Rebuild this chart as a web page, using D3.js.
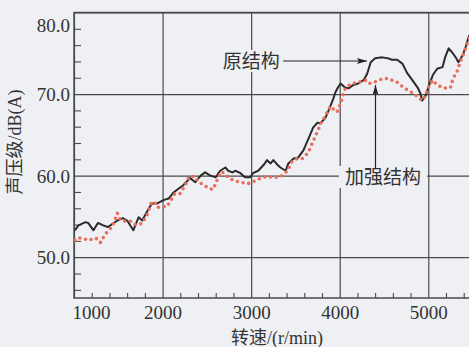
<!DOCTYPE html>
<html>
<head>
<meta charset="utf-8">
<script src="https://cdn.jsdelivr.net/npm/d3@7"></script>
<style>
  body { margin: 0; background: #eef0f4; }
  svg { display: block; }
</style>
</head>
<body>
<svg id="canvas"></svg>
<script>
// tick values
let xTicks = [1000, 2000, 3000, 4000, 5000]
let yTicks = [50, 60, 70, 80]

// 原结构 (black line)
let rpmOrig = [1010,1050,1130,1160,1220,1270,1330,1380,1410,1490,1550,1600,1670,1730,1770,1830,1880,1940,2010,2070,
  2120,2180,2230,2310,2370,2430,2480,2540,2600,2650,2710,2740,2790,2820,2880,2930,2990,3020,3080,3140,
  3180,3220,3250,3300,3330,3390,3420,3480,3530,3590,3650,3700,3750,3780,3840,3890,3930,3950,3980,4010,
  4060,4100,4150,4210,4270,4310,4350,4400,4480,4540,4590,4650,4710,4760,4820,4880,4910,4930,4970,5000,
  5050,5100,5160,5190,5230,5270,5310,5340,5390,5420,5450,5530]
let dbOrig = [53.3,53.9,54.3,54.2,53.3,54.2,53.9,53.7,53.9,54.5,54.8,54.5,53.3,54.9,54.5,55.7,56.6,56.6,57.0,57.2,
  57.9,58.4,58.8,59.7,59.2,60.0,60.4,60.0,59.8,60.6,61.0,60.6,60.4,60.6,60.3,59.8,59.8,60.3,60.6,61.3,
  61.9,61.5,61.9,61.3,61.0,60.6,61.5,62.1,62.2,63.1,64.6,65.9,66.5,66.4,67.1,68.4,69.5,70.2,70.8,71.3,
  70.8,70.7,71.1,71.3,71.7,72.5,73.9,74.4,74.5,74.4,74.2,74.2,73.7,72.6,71.7,70.8,70.1,69.2,69.8,70.8,
  72.3,73.1,73.3,74.5,75.6,75.1,74.5,73.9,74.8,75.7,76.8,79.0]

// 加强结构 (red dotted line)
let rpmRein = [1010,1050,1090,1130,1160,1210,1260,1300,1330,1380,1430,1490,1520,1580,1650,1690,1760,1820,1870,1910,
  1940,2000,2050,2100,2140,2200,2260,2300,2360,2410,2470,2530,2570,2630,2670,2730,2800,2880,2960,3010,
  3070,3130,3180,3240,3300,3350,3410,3460,3520,3580,3620,3660,3690,3720,3760,3800,3840,3870,3900,3940,
  3970,4020,4060,4120,4180,4230,4290,4320,4380,4440,4490,4550,4610,4660,4720,4780,4830,4890,4930,4970,
  5000,5050,5100,5160,5220,5250,5280,5330,5360,5400,5440,5490]
let dbRein = [52.1,52.4,52.3,52.2,52.3,52.1,52.3,51.8,52.4,53.2,53.7,55.4,54.6,54.4,54.4,54.0,54.1,55.0,56.6,56.8,
  56.1,56.2,56.2,57.1,57.8,57.8,58.9,59.9,59.9,59.2,58.8,58.4,58.3,59.8,60.5,59.9,59.4,59.2,59.0,59.2,
  59.5,59.8,59.9,59.8,59.8,60.0,60.6,61.7,62.1,62.1,62.5,63.2,64.0,64.7,65.7,66.7,67.3,68.1,68.5,68.0,
  67.8,69.2,70.6,71.2,71.4,71.5,71.7,71.3,71.4,71.7,71.9,71.9,71.6,71.4,70.8,70.4,70.1,69.6,69.2,69.8,
  70.8,71.7,71.1,70.8,70.7,70.8,71.9,72.9,73.9,75.0,76.2,77.4]

let width = 469
let height = 347
let plotLeft = 74
let plotTop = 12.5
let plotBottom = 298
let bg = '#eef0f4'
let gridColor = '#4a4a4a'

let canvas = d3.select('#canvas').attr('width', width).attr('height', height)
canvas.append('rect').attr('width', width).attr('height', height).attr('fill', bg)

let xScale = d3.scaleLinear().domain([1000, 6000]).range([plotLeft, plotLeft + 5000 * 0.08857])
let yScale = d3.scaleLinear().domain([45, 80]).range([plotBottom, plotTop])

let minorX = d3.range(1200, 6000, 200).filter(d => d % 1000 != 0)
let minorY = d3.range(46, 80, 2).filter(d => d % 10 != 0)

let tickFont = '"Liberation Serif", "Noto Sans CJK SC", serif'

// x axis: gridlines + labels
let xAxis = canvas.append('g')
  .attr('transform', `translate(0,${plotBottom})`)
  .call(d3.axisBottom(xScale).tickValues(xTicks).tickSize(-(plotBottom - plotTop)).tickPadding(8).tickFormat(d3.format('d')))
xAxis.select('.domain').remove()
xAxis.selectAll('line').attr('stroke', gridColor).attr('stroke-width', 1.2)
xAxis.selectAll('text')
  .style('font-family', tickFont).style('font-size', '19px').attr('fill', '#333')
  .attr('text-anchor', (d, i) => i == 0 ? 'start' : 'middle')
  .attr('x', (d, i) => i == 0 ? -2 : 0)

// x minor ticks
let xMinor = canvas.append('g')
  .attr('transform', `translate(0,${plotBottom})`)
  .call(d3.axisBottom(xScale).tickValues(minorX).tickSize(-5).tickFormat(''))
xMinor.select('.domain').remove()
xMinor.selectAll('line').attr('stroke', gridColor).attr('stroke-width', 1.1)

// y axis: gridlines + labels
let yAxis = canvas.append('g')
  .attr('transform', `translate(${plotLeft},0)`)
  .call(d3.axisLeft(yScale).tickValues(yTicks).tickSize(-(width - plotLeft + 20)).tickPadding(4).tickFormat(d3.format('.1f')))
yAxis.select('.domain').remove()
yAxis.selectAll('line').attr('stroke', gridColor).attr('stroke-width', 1.2)
yAxis.selectAll('text')
  .style('font-family', tickFont).style('font-size', '19px').attr('fill', '#333')
  .attr('dy', d => d == 80 ? '1.0em' : '0.34em')

// y minor ticks
let yMinor = canvas.append('g')
  .attr('transform', `translate(${plotLeft},0)`)
  .call(d3.axisLeft(yScale).tickValues(minorY).tickSize(-7).tickFormat(''))
yMinor.select('.domain').remove()
yMinor.selectAll('line').attr('stroke', gridColor).attr('stroke-width', 1.1)

// frame (left, top, bottom)
canvas.append('path')
  .attr('d', `M${width + 5},${plotTop}H${plotLeft}V${plotBottom}H${width + 5}`)
  .attr('fill', 'none').attr('stroke', gridColor).attr('stroke-width', 1.4)

// axis titles
canvas.append('text')
  .attr('transform', `translate(21,142) rotate(-90)`)
  .attr('text-anchor', 'middle')
  .style('font-family', tickFont).style('font-size', '18px').attr('fill', '#333')
  .text('声压级/dB(A)')

canvas.append('text')
  .attr('x', 277).attr('y', 344)
  .attr('text-anchor', 'middle')
  .style('font-family', tickFont).style('font-size', '18px').attr('fill', '#333')
  .text('转速/(r/min)')

// curves
canvas.append('clipPath').attr('id', 'plot-clip')
  .append('rect').attr('x', plotLeft).attr('y', plotTop).attr('width', width).attr('height', plotBottom - plotTop)

let line = d3.line().x(d => xScale(d[0])).y(d => yScale(d[1]))

canvas.append('path')
  .datum(rpmOrig.map((r, i) => [r, dbOrig[i]]))
  .attr('clip-path', 'url(#plot-clip)')
  .attr('d', line)
  .attr('fill', 'none').attr('stroke', '#2b2b2b').attr('stroke-width', 2)
  .attr('stroke-linejoin', 'round')

canvas.append('path')
  .datum(rpmRein.map((r, i) => [r, dbRein[i]]))
  .attr('clip-path', 'url(#plot-clip)')
  .attr('d', line)
  .attr('fill', 'none').attr('stroke', '#e86f5e').attr('stroke-width', 3.6)
  .attr('stroke-dasharray', '0 5.8').attr('stroke-linecap', 'round')

// annotations
canvas.append('defs').append('marker')
  .attr('id', 'arrow')
  .attr('viewBox', '0 0 10 6')
  .attr('refX', 10).attr('refY', 3)
  .attr('markerWidth', 10).attr('markerHeight', 6)
  .attr('markerUnits', 'userSpaceOnUse')
  .attr('orient', 'auto')
  .append('path').attr('d', 'M0,0L10,3L0,6L2,3Z').attr('fill', '#222')

let labelOrig = { x: xScale(3000), y: 61 }
let labelRein = { x: 383, y: 177 }

canvas.append('rect')
  .attr('x', labelOrig.x - 32).attr('y', labelOrig.y - 11).attr('width', 64).attr('height', 22).attr('fill', bg)
canvas.append('text')
  .attr('x', labelOrig.x).attr('y', labelOrig.y).attr('dy', '0.35em')
  .attr('text-anchor', 'middle')
  .style('font-family', tickFont).style('font-size', '19px').attr('fill', '#333')
  .text('原结构')
canvas.append('line')
  .attr('x1', labelOrig.x + 32).attr('y1', labelOrig.y).attr('x2', 367).attr('y2', labelOrig.y)
  .attr('stroke', '#222').attr('stroke-width', 1.2).attr('marker-end', 'url(#arrow)')

canvas.append('rect')
  .attr('x', labelRein.x - 44).attr('y', labelRein.y - 11).attr('width', 88).attr('height', 22).attr('fill', bg)
canvas.append('text')
  .attr('x', labelRein.x).attr('y', labelRein.y).attr('dy', '0.35em')
  .attr('text-anchor', 'middle')
  .style('font-family', tickFont).style('font-size', '19px').attr('fill', '#333')
  .text('加强结构')
canvas.append('line')
  .attr('x1', 375.5).attr('y1', labelRein.y - 9).attr('x2', 375.5).attr('y2', 85)
  .attr('stroke', '#222').attr('stroke-width', 1.2).attr('marker-end', 'url(#arrow)')
</script>
</body>
</html>
